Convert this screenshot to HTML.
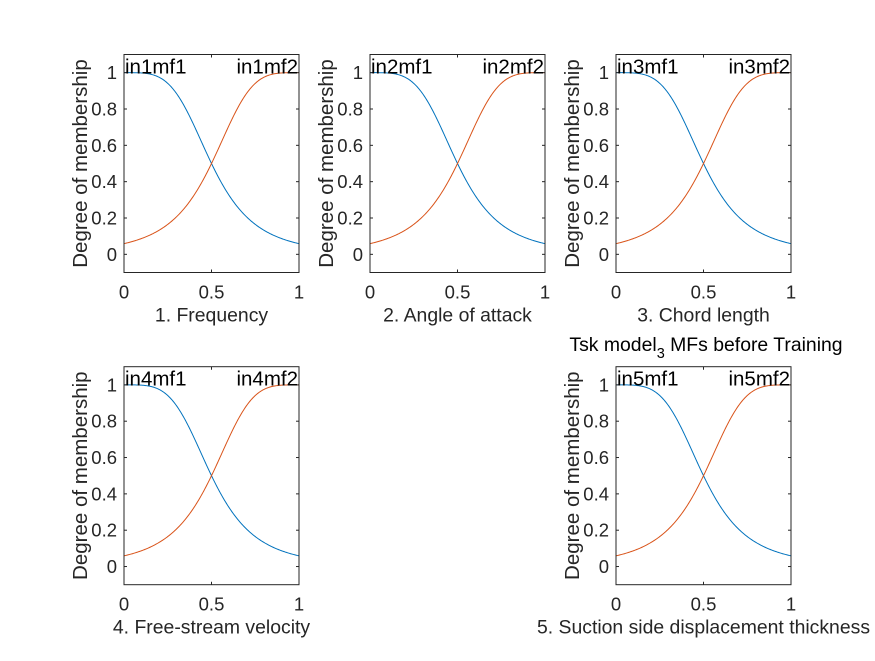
<!DOCTYPE html>
<html><head><meta charset="utf-8">
<style>
html,body{margin:0;padding:0;background:#fff;}
svg text{font-family:"Liberation Sans",Arial,sans-serif;}
</style></head>
<body>
<svg id="fig" width="875" height="656" viewBox="0 0 875 656" xmlns="http://www.w3.org/2000/svg">
<rect width="875" height="656" fill="#fff"/>
<text x="706" y="351" font-size="19.4" fill="#000" text-anchor="middle">Tsk model<tspan font-size="14.5" dy="7">3</tspan><tspan dy="-7"> MFs before Training</tspan></text>
</svg>
<script>
const inputNames = ["1. Frequency","2. Angle of attack","3. Chord length","4. Free-stream velocity","5. Suction side displacement thickness"];
const mfNames = [["in1mf1","in1mf2"],["in2mf1","in2mf2"],["in3mf1","in3mf2"],["in4mf1","in4mf2"],["in5mf1","in5mf2"]];
const mfCenters = [0, 1];
const mfWidths = [0.5, 0.5];
const mfSlopes = [2, 2];
const xTicks = [0, 0.5, 1];
const xTickLabels = ["0","0.5","1"];
const yTicks = [0, 0.2, 0.4, 0.6, 0.8, 1];
const yTickLabels = ["0","0.2","0.4","0.6","0.8","1"];
const colors = ["#0072BD", "#D95319"];

const NS = "http://www.w3.org/2000/svg";
const svg = document.getElementById("fig");
const boxes = [[124,54.5],[370,54.5],[616,54.5],[124,366.7],[616,366.7]];
const W = 175, H = 218, YMIN = -0.1, YMAX = 1.1;
function mk(tag, attrs, parent){
  const e = document.createElementNS(NS, tag);
  for (const k in attrs) e.setAttribute(k, attrs[k]);
  (parent||svg).appendChild(e); return e;
}
boxes.forEach((b, i) => {
  const [L, T] = b;
  const sx = v => L + v * W;
  const sy = v => T + (YMAX - v) / (YMAX - YMIN) * H;
  const g = mk("g", {});
  
  
  for (let m = 0; m < 2; m++) {
    let d = "";
    for (let k = 0; k <= 200; k++) {
      const x = k / 200;
      const y = 1 / (1 + Math.pow(Math.abs((x - mfCenters[m]) / mfWidths[m]), 2 * mfSlopes[m]));
      d += (k ? "L" : "M") + sx(x).toFixed(2) + " " + sy(y).toFixed(2);
    }
    const p = mk("path", {d:d, fill:"none", stroke:colors[m], "stroke-width":1}, g);
    
    
  }
  const bx = mk("rect", {x:L, y:T, width:W, height:H, fill:"none", stroke:"#262626", "stroke-width":1}, g);
  
  
  xTicks.forEach((v, j) => {
    const x = sx(v);
    mk("line", {x1:x, y1:T+H, x2:x, y2:T+H-3, stroke:"#262626"}, g);
    mk("line", {x1:x, y1:T, x2:x, y2:T+3, stroke:"#262626"}, g);
    const t = mk("text", {x:x, y:T+H+26, "font-size":18.5, fill:"#262626", "text-anchor":"middle"}, g);
    t.textContent = xTickLabels[j];
    
    
  });
  yTicks.forEach((v, j) => {
    const y = sy(v);
    mk("line", {x1:L, y1:y, x2:L+3, y2:y, stroke:"#262626"}, g);
    mk("line", {x1:L+W, y1:y, x2:L+W-3, y2:y, stroke:"#262626"}, g);
    const t = mk("text", {x:L-7, y:y+6.5, "font-size":18.5, fill:"#262626", "text-anchor":"end"}, g);
    t.textContent = yTickLabels[j];
    
    
  });
  const xl = mk("text", {x:L+W/2, y:T+H+49, "font-size":19.4, fill:"#262626", "text-anchor":"middle"}, g);
  xl.textContent = inputNames[i];
  
  
  const yl = mk("text", {x:0, y:0, "font-size":20.5, fill:"#262626", "text-anchor":"middle", transform:"translate(" + (L-37) + "," + (T+H/2) + ") rotate(-90)"}, g);
  yl.textContent = "Degree of membership";
  
  
  const m1 = mk("text", {x:L+1, y:T+19, "font-size":20.5, fill:"#000"}, g);
  m1.textContent = mfNames[i][0];
  
  
  const m2 = mk("text", {x:L+W-1, y:T+19, "font-size":20.5, fill:"#000", "text-anchor":"end"}, g);
  m2.textContent = mfNames[i][1];
  
  
});
</script>
</body></html>
